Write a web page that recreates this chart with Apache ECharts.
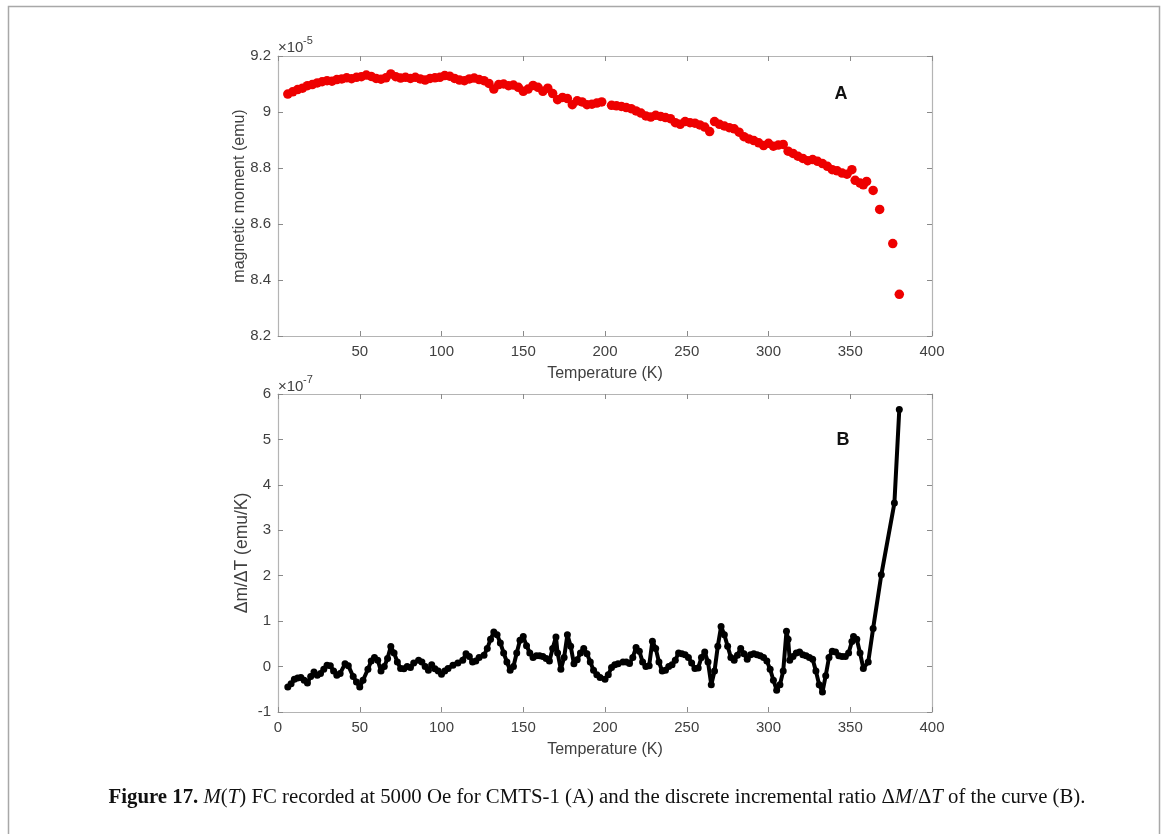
<!DOCTYPE html>
<html><head><meta charset="utf-8">
<script src="https://cdn.jsdelivr.net/npm/echarts@6/dist/echarts.min.js"></script>
<style>html,body{margin:0;padding:0;background:#fff}#c{width:1168px;height:834px}</style>
</head><body><div id="c"></div>
<script>
// Panel A: M(T) FC, moment in units of 1e-5 emu
const tempA = [6,9,12,15,18,21,24,27,30,33,36,39,42,45,48,51,54,57,60,63,66,69,72,75,78,81,84,87,90,93,96,99,102,105,108,111,114,117,120,123,126,129,132,135,138,141,144,147,150,153,156,159,162,165,168,171,174,177,180,183,186,189,192,195,198,204,207,210,213,216,219,222,225,228,231,234,237,240,243,246,249,252,255,258,261,264,267,270,273,276,279,282,285,288,291,294,297,300,303,306,309,312,315,318,321,324,327,330,333,336,339,342,345,348,351,353,356,358,360,364,368,376,380];
const momentA = [9.064,9.072,9.080,9.085,9.094,9.098,9.104,9.108,9.112,9.110,9.116,9.118,9.122,9.119,9.124,9.126,9.132,9.127,9.120,9.117,9.122,9.136,9.126,9.121,9.124,9.120,9.124,9.118,9.114,9.120,9.122,9.124,9.130,9.128,9.120,9.114,9.112,9.118,9.121,9.116,9.112,9.102,9.082,9.098,9.100,9.094,9.096,9.088,9.074,9.082,9.095,9.088,9.074,9.085,9.066,9.044,9.052,9.048,9.026,9.040,9.036,9.026,9.028,9.032,9.036,9.024,9.022,9.020,9.016,9.012,9.004,8.996,8.986,8.982,8.988,8.984,8.980,8.976,8.962,8.956,8.966,8.962,8.960,8.954,8.946,8.930,8.966,8.956,8.950,8.944,8.940,8.928,8.912,8.904,8.898,8.890,8.880,8.888,8.878,8.882,8.884,8.860,8.852,8.842,8.834,8.826,8.830,8.824,8.816,8.806,8.794,8.790,8.782,8.778,8.794,8.756,8.746,8.740,8.752,8.720,8.652,8.530,8.349];
// Panel B: discrete incremental ratio, units of 1e-7 emu/K
const tempB = [6,8,10,12,14,16,18,20,22,24,26,28,30,32,34,36,38,41,43,46,48,50,52,55,57,59,61,63,65,67,69,71,73,75,77,79,81,83,86,88,90,92,94,96,98,100,102,104,107,110,113,115,117,119,121,123,126,128,130,132,134,136,138,140,142,144,146,148,150,152,154,156,158,160,162,164,166,168,170,171,173,175,177,179,181,183,185,187,189,191,193,195,197,200,202,204,206,208,211,213,215,217,219,221,223,225,227,229,231,233,235,237,239,241,243,245,247,249,251,253,255,257,259,261,263,265,267,269,271,273,275,277,279,281,283,285,287,289,291,293,295,297,299,301,303,305,307,309,311,312,313,315,317,319,321,323,325,327,329,331,333,335,337,339,341,343,345,347,349,351,352,354,356,358,361,364,369,377,380];
const dmdtB = [-0.45,-0.38,-0.28,-0.25,-0.24,-0.30,-0.36,-0.22,-0.12,-0.19,-0.15,-0.06,0.03,0.02,-0.10,-0.19,-0.15,0.06,0.02,-0.22,-0.34,-0.45,-0.30,-0.06,0.12,0.20,0.14,-0.10,0.00,0.18,0.44,0.30,0.10,-0.04,-0.05,0.00,-0.02,0.08,0.14,0.10,0.00,-0.08,0.04,-0.05,-0.10,-0.17,-0.10,-0.04,0.03,0.08,0.14,0.28,0.22,0.10,0.12,0.20,0.25,0.40,0.60,0.76,0.70,0.52,0.30,0.10,-0.08,0.00,0.30,0.58,0.66,0.46,0.30,0.20,0.24,0.24,0.22,0.18,0.12,0.40,0.65,0.30,-0.06,0.20,0.70,0.45,0.06,0.15,0.30,0.40,0.28,0.10,-0.08,-0.18,-0.24,-0.28,-0.18,-0.02,0.04,0.06,0.10,0.10,0.07,0.20,0.42,0.34,0.10,0.00,0.02,0.56,0.40,0.10,-0.10,-0.08,0.00,0.04,0.14,0.30,0.28,0.26,0.20,0.08,-0.04,-0.03,0.20,0.32,0.10,-0.40,-0.10,0.45,0.88,0.70,0.45,0.20,0.14,0.25,0.40,0.28,0.16,0.26,0.28,0.26,0.24,0.20,0.12,-0.06,-0.30,-0.52,-0.40,-0.10,0.78,0.60,0.14,0.22,0.30,0.32,0.26,0.24,0.20,0.16,-0.10,-0.40,-0.56,-0.20,0.20,0.34,0.32,0.24,0.22,0.22,0.30,0.55,0.66,0.60,0.30,-0.04,0.10,0.84,2.02,3.60,5.66];

const AX = '#b4b4b4', LBL = '#404040', FONT = 'Liberation Sans';
function xAx(grid, pos, showLabel, hideMin, name) {
  return {
    type: 'value', gridIndex: grid, position: pos, min: 0, max: 400, interval: 50,
    name: name || '', nameLocation: 'middle', nameGap: 30, nameMoveOverlap: false,
    nameTextStyle: { color: LBL, fontSize: 16, fontFamily: FONT },
    axisLine: { show: true, onZero: false, lineStyle: { color: AX, width: 1.2 } },
    axisTick: { show: true, inside: true, length: 5, lineStyle: { color: '#8a8a8a' } },
    axisLabel: { show: showLabel, showMinLabel: !hideMin, margin: 8, color: LBL, fontSize: 15, fontFamily: FONT },
    splitLine: { show: false }
  };
}
function yAx(grid, pos, showLabel, min, max, interval, name, gap, nameSize, fmt) {
  return {
    type: 'value', gridIndex: grid, position: pos, min: min, max: max, interval: interval,
    name: name || '', nameLocation: 'middle', nameGap: gap || 30, nameRotate: 90, nameMoveOverlap: false,
    nameTextStyle: { color: LBL, fontSize: nameSize || 16, fontFamily: FONT },
    axisLine: { show: true, onZero: false, lineStyle: { color: AX, width: 1.2 } },
    axisTick: { show: true, inside: true, length: 5, lineStyle: { color: '#8a8a8a' } },
    axisLabel: { show: showLabel, margin: 7, color: LBL, fontSize: 15, fontFamily: FONT, formatter: fmt },
    splitLine: { show: false }
  };
}
const fmtA = v => String(+v.toFixed(1));
const fmtB = v => String(Math.round(v));

const chart = echarts.init(document.getElementById('c'), null, { renderer: 'canvas' });
chart.setOption({
  backgroundColor: '#fff',
  animation: false,
  grid: [
    { left: 278, top: 56, width: 654, height: 280 },
    { left: 278, top: 394, width: 654, height: 318 }
  ],
  xAxis: [
    xAx(0, 'bottom', true, true, 'Temperature (K)'),
    xAx(0, 'top', false, true),
    xAx(1, 'bottom', true, false, 'Temperature (K)'),
    xAx(1, 'top', false, false)
  ],
  yAxis: [
    yAx(0, 'left', true, 8.2, 9.2, 0.2, 'magnetic moment (emu)', 30, 16, fmtA),
    yAx(0, 'right', false, 8.2, 9.2, 0.2),
    yAx(1, 'left', true, -1, 6, 1, 'Δm/ΔT (emu/K)', 27, 17.5, fmtB),
    yAx(1, 'right', false, -1, 6, 1)
  ],
  series: [
    {
      type: 'scatter', xAxisIndex: 0, yAxisIndex: 0,
      data: tempA.map((t, i) => [t, momentA[i]]),
      symbol: 'circle', symbolSize: 9.5,
      itemStyle: { color: '#ee0000', opacity: 1 }
    },
    {
      type: 'line', xAxisIndex: 2, yAxisIndex: 2,
      data: tempB.map((t, i) => [t, dmdtB[i]]),
      symbol: 'circle', symbolSize: 7, showSymbol: true,
      lineStyle: { color: '#000', width: 4 },
      itemStyle: { color: '#000', borderWidth: 0 }
    }
  ],
  graphic: [
    { type: 'rect', shape: { x: 8.5, y: 6.5, width: 1151, height: 860 }, style: { fill: 'none', stroke: '#a8a8a8', lineWidth: 1.5 }, silent: true },
    { type: 'text', x: 278, y: 48, style: { text: '×10', fill: LBL, fontSize: 15, fontFamily: FONT, textVerticalAlign: 'middle' } },
    { type: 'text', x: 303, y: 41, style: { text: '-5', fill: LBL, fontSize: 11, fontFamily: FONT, textVerticalAlign: 'middle' } },
    { type: 'text', x: 278, y: 387, style: { text: '×10', fill: LBL, fontSize: 15, fontFamily: FONT, textVerticalAlign: 'middle' } },
    { type: 'text', x: 303, y: 380, style: { text: '-7', fill: LBL, fontSize: 11, fontFamily: FONT, textVerticalAlign: 'middle' } },
    { type: 'text', x: 841, y: 94, style: { text: 'A', fill: '#111', fontSize: 18, fontWeight: 'bold', fontFamily: FONT, textAlign: 'center', textVerticalAlign: 'middle' } },
    { type: 'text', x: 843, y: 440, style: { text: 'B', fill: '#111', fontSize: 18, fontWeight: 'bold', fontFamily: FONT, textAlign: 'center', textVerticalAlign: 'middle' } },
    { type: 'text', x: 597, y: 798, style: {
        text: '{b|Figure 17.} {i|M}{n|(}{i|T}{n|) FC recorded at 5000 Oe for CMTS-1 (A) and the discrete incremental ratio Δ}{i|M}{n|/Δ}{i|T}{n| of the curve (B).}',
        textAlign: 'center', textVerticalAlign: 'middle', fill: '#111', fontSize: 20.8, fontFamily: 'Liberation Serif',
        rich: {
          b: { fontWeight: 'bold', fontSize: 20.8, fontFamily: 'Liberation Serif', fill: '#111' },
          i: { fontStyle: 'italic', fontSize: 20.8, fontFamily: 'Liberation Serif', fill: '#111' },
          n: { fontSize: 20.8, fontFamily: 'Liberation Serif', fill: '#111' }
        }
      } }
  ]
});
</script>
</body></html>
